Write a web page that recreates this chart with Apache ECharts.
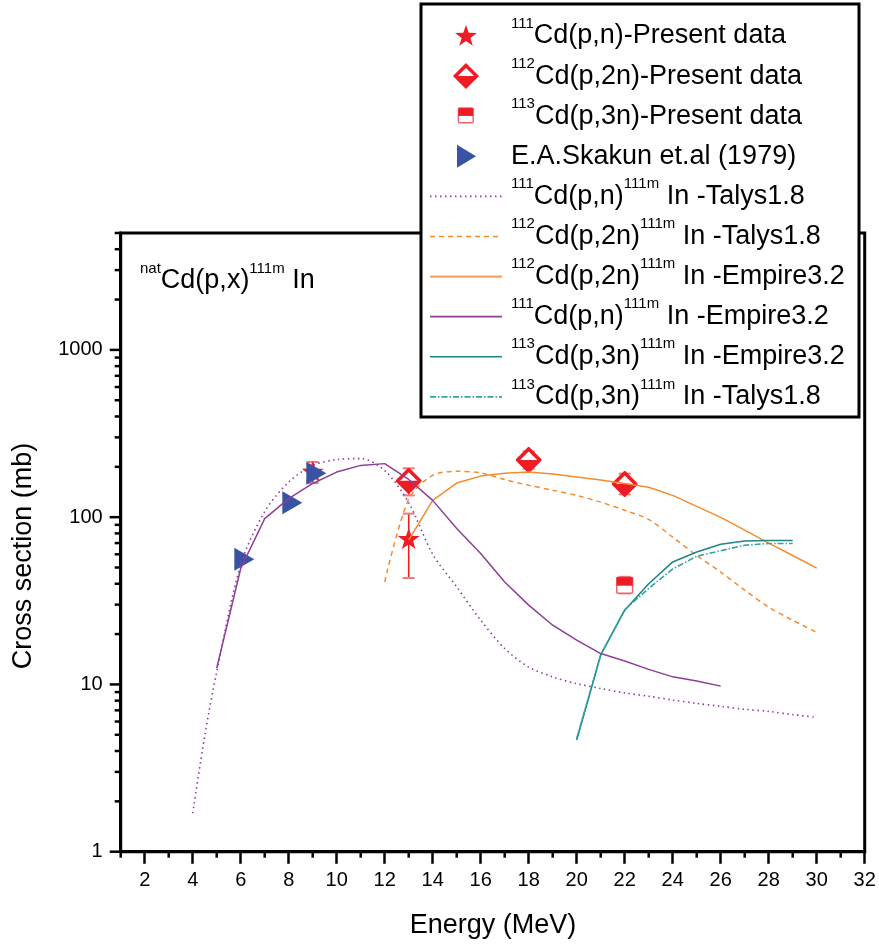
<!DOCTYPE html>
<html>
<head>
<meta charset="utf-8">
<script src="https://cdn.jsdelivr.net/npm/echarts@6/dist/echarts.min.js"></script>
<style>
  html, body { margin: 0; padding: 0; background: #fff; }
  #chart { width: 879px; height: 947px; }
</style>
</head>
<body>
<div id="chart"></div>
<script>
// ---- axis ticks ----
const energyTicks = [2, 4, 6, 8, 10, 12, 14, 16, 18, 20, 22, 24, 26, 28, 30, 32];
const energyMinorTicks = [1, 3, 5, 7, 9, 11, 13, 15, 17, 19, 21, 23, 25, 27, 29, 31];
const sectionTicks = [1, 10, 100, 1000];
const sectionMinorTicks = [2, 3, 4, 5, 6, 7, 8, 9, 20, 30, 40, 50, 60, 70, 80, 90,
  200, 300, 400, 500, 600, 700, 800, 900, 2000, 3000, 4000, 5000];
const energyMin = 1, energyMax = 32;
const sectionMin = 1, sectionMax = 5000;

// ---- measured cross sections (MeV, mb) ----
const cd111Present = [[9, 188], [13, 74.5]];
const cd111PresentErr = [[9, 160, 214], [13, 43.3, 105]];
const cd112Present = [[13, 165], [18, 220], [22, 158]];
const cd112PresentErr = [[13, 135, 196], [18, 195, 247], [22, 137, 182]];
const cd113Present = [[22, 39.2]];
const cd113PresentErr = [[22, 35, 44]];
const skakun1979 = [[6.15, 56], [8.15, 122], [9.15, 183]];

// ---- model calculations ----
const talys111E = [4, 4.5, 5, 6, 7, 8, 9, 10, 11, 12, 13, 14, 15, 16, 17, 18, 19, 20, 21, 22, 23, 24, 25, 26, 27, 28, 29, 30];
const talys111 = [1.7, 4.9, 11.9, 52, 108, 162, 204, 221, 224, 190, 122, 60, 38.3, 24.2, 16.4, 12.7, 11.1, 10.1, 9.46, 8.9, 8.5, 8.07, 7.7, 7.4, 7.1, 6.9, 6.6, 6.35];

const talys112E = [12, 13, 14, 15, 16, 17, 18, 19, 20, 21, 22, 23, 24, 25, 26, 27, 28, 29, 30];
const talys112 = [41, 128, 178, 188, 184, 168, 155, 145, 135, 123, 110, 97, 76, 59, 47, 36.6, 29, 24.2, 20.5];

const empire112E = [13, 14, 15, 16, 17, 18, 19, 20, 21, 22, 23, 24, 25, 26, 27, 28, 29, 30];
const empire112 = [73, 126, 160, 176, 183, 186, 181, 174, 167, 159, 151, 135, 116, 99.7, 83.7, 70, 59, 49.6];

const empire111E = [5, 6, 7, 8, 9, 10, 11, 12, 13, 14, 15, 16, 17, 18, 19, 20, 21, 22, 23, 24, 25, 26];
const empire111 = [12.5, 49.3, 98, 129, 159, 186, 204, 209, 168, 126, 85.5, 60.6, 41, 29.8, 22.6, 18.4, 15.3, 13.8, 12.3, 11.1, 10.5, 9.77];

const empire113E = [20, 21, 22, 23, 24, 25, 26, 27, 28, 29];
const empire113 = [4.65, 15, 27.8, 40, 54, 62, 68.9, 72, 72.6, 72.6];

const talys113E = [20, 21, 22, 23, 24, 25, 26, 27, 28, 29];
const talys113 = [4.75, 15, 28, 37.5, 49, 58.4, 63, 68, 69.6, 69.6];

// ---- styling ----
const FONT = 'Liberation Sans, Arial, Helvetica, sans-serif';
const RED = '#ee1c25';
const BLUE = '#3953a4';
const PURPLE = '#8e3d98';
const ORANGE = '#f68b2c';
const TEAL = '#1f8585';
const TEAL_LIGHT = '#34a3a3';
const ROW = 40.1;
const DOT = [1.5, 3.5], DASH = [5, 4], DASHDOT = [6, 2, 1.5, 2];

const pair = (xs, ys) => xs.map((x, i) => [x, ys[i]]);
const svgImage = (w, h, body) => 'image://data:image/svg+xml;charset=utf-8,' + encodeURIComponent(
  "<svg xmlns='http://www.w3.org/2000/svg' width='" + w + "' height='" + h + "' viewBox='0 0 " + w + " " + h + "'>" + body + "</svg>");

const starPts = '10,0 12.35,6.76 19.51,6.91 13.8,11.24 15.88,18.09 10,14 4.12,18.09 6.2,11.24 0.49,6.91 7.65,6.76';
const starSymbol = 'path://M' + starPts.split(' ').join(' L') + ' Z';
const diamondBody =
  "<polygon points='13,2 24,13 13,24 2,13' fill='#ffffff' stroke='" + RED + "' stroke-width='3.6' stroke-linejoin='miter'/>" +
  "<polygon points='1.5,13 24.5,13 13,24.5' fill='" + RED + "'/>";
const squareBody =
  "<rect x='1' y='1' width='16' height='16' rx='1.5' fill='#ffffff' stroke='#f0656a' stroke-width='1.6'/>" +
  "<rect x='1' y='1' width='16' height='8.5' fill='" + RED + "'/>";
const halfDiamond = svgImage(26, 26, diamondBody);
const halfSquare = svgImage(18, 18, squareBody);
const rightTriangle = 'path://M0,0 L20,11.5 L0,23 Z';

// legend icons: every row gets an icon box as tall as the row, so rows are evenly spaced
const starIcon = svgImage(40, 40, "<g transform='translate(8.5,9) scale(1.15)'><polygon points='" + starPts + "' fill='" + RED + "'/></g>");
const diamondIcon = svgImage(40, 40, "<g transform='translate(7.5,7.5) scale(0.96)'>" + diamondBody + "</g>");
const squareIcon = svgImage(40, 40, "<g transform='translate(11.5,11) scale(0.92)'>" + squareBody + "</g>");
const triangleIcon = svgImage(40, 40, "<polygon points='11,8.5 30,20 11,31.5' fill='" + BLUE + "'/>");
const lineIcon = (color, dash, width) => svgImage(72, 40,
  "<line x1='0' y1='20' x2='72' y2='20' stroke='" + color + "' stroke-width='" + width + "'" +
  (dash ? " stroke-dasharray='" + dash.join(' ') + "'" : '') + "/>");

const legendText = {
  star111: '{s|111}{m|Cd(p,n)-Present data}',
  dia112: '{s|112}{m|Cd(p,2n)-Present data}',
  sq113: '{s|113}{m|Cd(p,3n)-Present data}',
  skakun: '{m|E.A.Skakun et.al (1979)}',
  talys111: '{s|111}{m|Cd(p,n)}{s|111m}{m| In -Talys1.8}',
  talys112: '{s|112}{m|Cd(p,2n)}{s|111m}{m| In -Talys1.8}',
  empire112: '{s|112}{m|Cd(p,2n)}{s|111m}{m| In -Empire3.2}',
  empire111: '{s|111}{m|Cd(p,n)}{s|111m}{m| In -Empire3.2}',
  empire113: '{s|113}{m|Cd(p,3n)}{s|111m}{m| In -Empire3.2}',
  talys113: '{s|113}{m|Cd(p,3n)}{s|111m}{m| In -Talys1.8}'
};

function errorBars(name, data) {
  return {
    name: name, type: 'custom', clip: false, silent: true, z: 2,
    data: data,
    encode: { x: 0, y: [1, 2] },
    renderItem: (params, api) => {
      const lo = api.coord([api.value(0), api.value(1)]);
      const hi = api.coord([api.value(0), api.value(2)]);
      const w = 6;
      const cap = { stroke: '#f07a7e', lineWidth: 2 };
      return {
        type: 'group',
        children: [
          { type: 'line', shape: { x1: lo[0], y1: lo[1], x2: hi[0], y2: hi[1] }, style: { stroke: RED, lineWidth: 1.6 } },
          { type: 'line', shape: { x1: lo[0] - w, y1: lo[1], x2: lo[0] + w, y2: lo[1] }, style: cap },
          { type: 'line', shape: { x1: hi[0] - w, y1: hi[1], x2: hi[0] + w, y2: hi[1] }, style: cap }
        ]
      };
    }
  };
}

function lineSeries(name, xs, ys, color, type, width, smooth) {
  return {
    name: name, type: 'line', data: pair(xs, ys),
    symbol: 'none', smooth: smooth, z: 3,
    lineStyle: { color: color, width: width, type: type },
    itemStyle: { color: color }
  };
}

// short outward ticks drawn from tick values through the axes
function tickSeries(values, horizontal, len) {
  return {
    type: 'custom', clip: false, silent: true, z: 1,
    data: values.map(v => horizontal ? [v, sectionMin] : [energyMin, v]),
    renderItem: (params, api) => {
      const p = api.coord([api.value(0), api.value(1)]);
      const shape = horizontal
        ? { x1: p[0], y1: p[1], x2: p[0], y2: p[1] + len }
        : { x1: p[0] - len, y1: p[1], x2: p[0], y2: p[1] };
      return { type: 'line', shape: shape, style: { stroke: '#000', lineWidth: 2.5 } };
    }
  };
}

const chart = echarts.init(document.getElementById('chart'), null, { renderer: 'canvas' });

chart.setOption({
  animation: false,
  backgroundColor: '#ffffff',
  textStyle: { fontFamily: FONT },
  grid: {
    left: 120.7, right: 14.3, top: 233, bottom: 95.3,
    show: true, borderColor: '#000', borderWidth: 3, backgroundColor: 'transparent'
  },
  xAxis: {
    type: 'value', min: energyMin, max: energyMax,
    axisLine: { lineStyle: { color: '#000', width: 3 } },
    axisTick: { customValues: energyTicks, length: 12, lineStyle: { color: '#000', width: 2.5 } },
    axisLabel: { customValues: energyTicks, margin: 19, color: '#000', fontSize: 20, fontFamily: FONT },
    splitLine: { show: false }
  },
  yAxis: {
    type: 'log', logBase: 10, min: sectionMin, max: sectionMax,
    axisLine: { lineStyle: { color: '#000', width: 3 } },
    axisTick: { show: false },
    axisLabel: {
      margin: 18, color: '#000', fontSize: 20, fontFamily: FONT,
      showMaxLabel: false,
      formatter: v => String(Math.round(v))
    },
    splitLine: { show: false }
  },
  legend: {
    orient: 'vertical', left: 430, top: 36 - ROW / 2, padding: 0, z: 100,
    itemWidth: 72, itemHeight: ROW, itemGap: 0,
    selectedMode: false,
    data: [
      { name: 'star111', icon: starIcon },
      { name: 'dia112', icon: diamondIcon },
      { name: 'sq113', icon: squareIcon },
      { name: 'skakun', icon: triangleIcon },
      { name: 'talys111', icon: lineIcon(PURPLE, DOT, 1.6) },
      { name: 'talys112', icon: lineIcon(ORANGE, DASH, 1.5) },
      { name: 'empire112', icon: lineIcon('#f7a463', null, 2.2) },
      { name: 'empire111', icon: lineIcon(PURPLE, null, 1.8) },
      { name: 'empire113', icon: lineIcon(TEAL, null, 1.6) },
      { name: 'talys113', icon: lineIcon(TEAL_LIGHT, DASHDOT, 1.6) }
    ],
    formatter: name => legendText[name],
    textStyle: {
      padding: [0, 0, 0, 4],
      color: '#000',
      rich: {
        s: { fontSize: 15, lineHeight: 14, verticalAlign: 'top', fontFamily: FONT, color: '#000' },
        m: { fontSize: 27, lineHeight: 40, fontFamily: FONT, color: '#000' }
      }
    }
  },
  graphic: [
    {
      type: 'rect', z: 50, silent: true,
      shape: { x: 421, y: 4, width: 438, height: 413 },
      style: { fill: '#ffffff', stroke: '#000', lineWidth: 3 }
    },
    {
      type: 'text', z: 50, x: 140, y: 261, silent: true,
      style: {
        text: '{s|nat}{m|Cd(p,x)}{s|111m}{m| In}',
        verticalAlign: 'top',
        rich: {
          s: { fontSize: 15, lineHeight: 14, verticalAlign: 'top', fontFamily: FONT, fill: '#000' },
          m: { fontSize: 27, lineHeight: 40, fontFamily: FONT, fill: '#000' }
        }
      }
    },
    {
      type: 'text', z: 50, x: 493, y: 926, silent: true,
      style: { text: 'Energy (MeV)', fontSize: 27, fontFamily: FONT, fill: '#000', align: 'center', verticalAlign: 'middle' }
    },
    {
      type: 'text', z: 50, x: 24, y: 556, rotation: Math.PI / 2, silent: true,
      style: { text: 'Cross section (mb)', fontSize: 27, fontFamily: FONT, fill: '#000', align: 'center', verticalAlign: 'middle' }
    }
  ],
  series: [
    tickSeries(energyMinorTicks, true, 6),
    tickSeries(sectionTicks, false, 11),
    tickSeries(sectionMinorTicks, false, 6),
    errorBars('err111', cd111PresentErr),
    errorBars('err112', cd112PresentErr),
    errorBars('err113', cd113PresentErr),
    {
      name: 'star111', type: 'scatter', data: cd111Present, z: 2,
      symbol: starSymbol, symbolSize: [22, 21], itemStyle: { color: RED, opacity: 1 }
    },
    {
      name: 'dia112', type: 'scatter', data: cd112Present, z: 2,
      symbol: halfDiamond, symbolSize: 26, itemStyle: { color: RED, opacity: 1 }
    },
    {
      name: 'sq113', type: 'scatter', data: cd113Present, z: 2,
      symbol: halfSquare, symbolSize: 18, itemStyle: { color: RED, opacity: 1 }
    },
    {
      name: 'skakun', type: 'scatter', data: skakun1979, z: 2,
      symbol: rightTriangle, symbolSize: [20, 23], itemStyle: { color: BLUE, opacity: 1 }
    },
    lineSeries('talys111', talys111E, talys111, PURPLE, DOT, 1.6, 0.3),
    lineSeries('talys112', talys112E, talys112, ORANGE, DASH, 1.5, 0.3),
    lineSeries('empire112', empire112E, empire112, ORANGE, 'solid', 1.5, false),
    lineSeries('empire111', empire111E, empire111, PURPLE, 'solid', 1.5, false),
    lineSeries('empire113', empire113E, empire113, TEAL, 'solid', 1.6, false),
    lineSeries('talys113', talys113E, talys113, TEAL_LIGHT, DASHDOT, 1.6, false)
  ]
});
</script>
</body>
</html>
